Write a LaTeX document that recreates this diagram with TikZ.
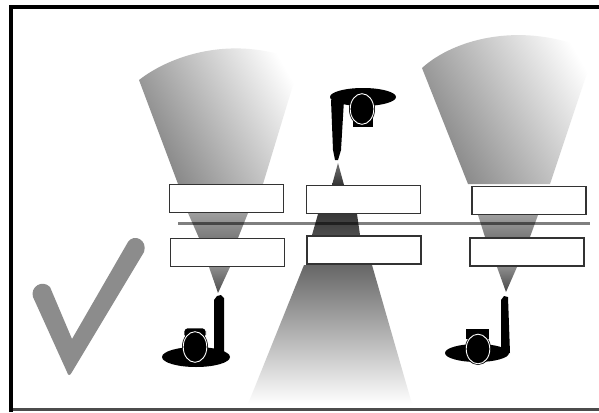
\documentclass[tikz,border=0pt]{standalone}
\begin{document}
\begin{tikzpicture}[x=1pt,y=-1pt]
\definecolor{panelline}{HTML}{333333}
\definecolor{checkgray}{HTML}{8C8C8C}
\definecolor{beamdark}{HTML}{858585}
\tikzset{
  panel/.style={draw=panelline, line width=1.5, fill=white, minimum width=114, minimum height=28, inner sep=0, outer sep=0},
  silhouette/.style={fill=black},
  ring/.style={draw=white, line width=0.9},
  fan/.style={bottom color=beamdark, middle color=black!13, top color=white, shading angle=-60},
}
\useasboundingbox (0,0) rectangle (599,412);
\fill[white] (0,0) rectangle (599,412);

% frame
\draw[line width=2.5, black!70] (10,409.5) -- (599,409.5);
\draw[line width=4] (10.5,412) -- (10.5,7.5) -- (599,7.5);

% check mark
\fill[checkgray] (33,297) .. controls (30,287) and (42,279) .. (50,287)
  -- (72,339) -- (128,242) .. controls (134,233) and (148,240) .. (144,252)
  -- (72,372) .. controls (70,376) and (68,376) .. (67,372) -- cycle;

% left column beam
\shade[fan] (178,184) -- (139,80) .. controls (175,52) and (240,35) .. (300,62) -- (263,184) -- cycle;
\shade[top color=black!38, bottom color=black!52] (188,213) -- (248,213) -- (238,238) -- (199,238) -- cycle;
\shade[top color=black!45, bottom color=black!70] (209,267) -- (230,267) -- (218,293) -- cycle;

% middle column beam
\shade[top color=black!55, bottom color=black!80] (332,185) -- (344,185) -- (338,163) -- cycle;
\shade[top color=black!78, bottom color=black!70] (318,214) -- (357,214) -- (360,235) -- (312,235) -- cycle;
\shade[top color=black!60, middle color=black!35, bottom color=white] (304,265) -- (372,265) -- (412,404) -- (248,404) -- cycle;

% right column beam
\shade[fan] (468,184) -- (422,68) .. controls (455,38) and (525,20) .. (594,52) -- (550,184) -- cycle;
\shade[top color=black!38, bottom color=black!52] (478,215) -- (538,215) -- (530,237) -- (485,237) -- cycle;
\shade[top color=black!45, bottom color=black!72] (497,267) -- (517,267) -- (506,292) -- cycle;

% rail between the panes
\draw[line width=3, black, opacity=0.5] (178,223) -- (590,223);

% panes
\node[panel] (lu) at (226.5,198.5) {};
\node[panel] (ll) at (227.5,252.5) {};
\node[panel] (mu) at (363.5,199.5) {};
\node[panel] (ml) at (364,250) {};
\node[panel] (ru) at (529,200.5) {};
\node[panel] (rl) at (527,252) {};

% viewer, bottom left
\fill[silhouette] (196,357) ellipse [x radius=34, y radius=10];
\fill[silhouette] (214,353) -- (214,300) -- (217,296) -- (221,295) -- (224,298) -- (224,353) -- cycle;
\draw[ring, fill=black, rounded corners=3] (184,328) rectangle (206,338);
\fill[silhouette] (195,347) ellipse [x radius=13, y radius=16.5];
\draw[ring] (195,347) ellipse [x radius=11.8, y radius=15.3];

% viewer, top middle
\fill[silhouette] (363,97) ellipse [x radius=33, y radius=9];
\fill[silhouette] (331,100) -- (344,100) -- (341,150) -- (338,160) -- (335,160) -- (333,150) -- cycle;
\draw[ring, fill=black] (352,116) rectangle (373,127);
\fill[silhouette] (362,109) ellipse [x radius=13, y radius=16.5];
\draw[ring] (362,109) ellipse [x radius=11.8, y radius=15.3];

% viewer, bottom right
\fill[silhouette] (477,353) ellipse [x radius=32, y radius=9];
\fill[silhouette] (501,353) -- (501,300) -- (504,296) -- (508,297) -- (510,353) -- cycle;
\draw[ring, fill=black] (465,328) rectangle (489,339);
\fill[silhouette] (478,349) ellipse [x radius=13, y radius=16];
\draw[ring] (478,349) ellipse [x radius=11.8, y radius=14.8];
\end{tikzpicture}
\end{document}
